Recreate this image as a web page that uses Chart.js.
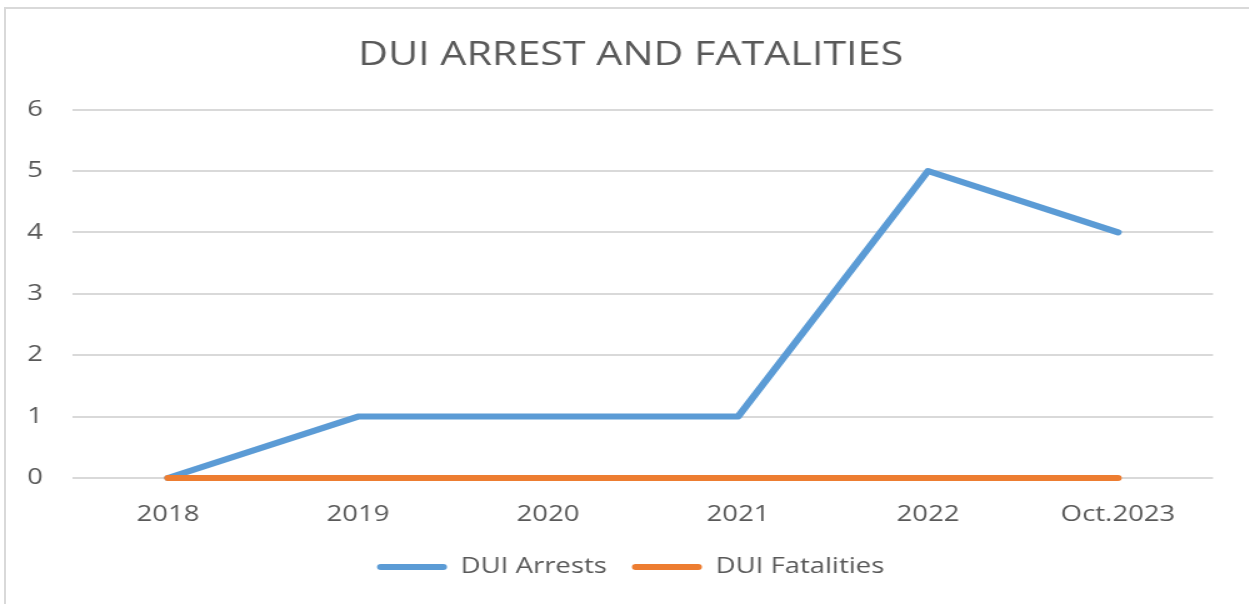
<!DOCTYPE html>
<html>
<head>
<meta charset="utf-8">
<script src="https://cdn.jsdelivr.net/npm/chart.js@4"></script>
<style>
    html, body { margin: 0; padding: 0; background: #fff; overflow: hidden; }
    #frame {
        position: absolute; left: 4px; top: 7px; width: 1250px; height: 610px;
        border: 2px solid #d9d9d9; box-sizing: border-box;
    }
    /* the original picture is stretched sideways, so the chart is drawn narrow and widened */
    #chartWrap {
        position: absolute; left: 0; top: 0; width: 999px; height: 604px;
        transform: scaleX(1.25); transform-origin: 0 0;
    }
</style>
</head>
<body>
<div id="frame"></div>
<div id="chartWrap"><canvas id="duiChart" width="999" height="604"></canvas></div>
<script>
// Chart data
const years = ['2018', '2019', '2020', '2021', '2022', 'Oct.2023'];
const duiArrests = [0, 1, 1, 1, 5, 4];
const duiFatalities = [0, 0, 0, 0, 0, 0];
const yTicks = [0, 1, 2, 3, 4, 5, 6];

const textColor = '#595959';
const gridColor = '#d9d9d9';
const fontFamily = '"Open Sans", "DejaVu Sans", sans-serif';

document.addEventListener('DOMContentLoaded', () => {
    const ctx = document.getElementById('duiChart').getContext('2d');
    new Chart(ctx, {
        type: 'line',
        data: {
            labels: years,
            datasets: [{
                label: 'DUI Arrests',
                data: duiArrests,
                borderColor: '#5B9BD5',
                backgroundColor: '#5B9BD5',
                borderWidth: 6,
                borderCapStyle: 'round',
                borderJoinStyle: 'round',
                pointRadius: 0,
                tension: 0,
                clip: 6,
                order: 1
            }, {
                label: 'DUI Fatalities',
                data: duiFatalities,
                borderColor: '#ED7D31',
                backgroundColor: '#ED7D31',
                borderWidth: 6,
                borderCapStyle: 'round',
                pointRadius: 0,
                tension: 0,
                clip: 6,
                order: 0
            }]
        },
        options: {
            responsive: false,
            animation: false,
            devicePixelRatio: 1,
            layout: { padding: { left: 10, right: 0, top: 0, bottom: 16 } },
            scales: {
                x: {
                    offset: true,
                    afterFit: axis => { axis.height = 58; },
                    grid: { display: false, drawTicks: false },
                    border: { display: false },
                    ticks: {
                        color: textColor,
                        padding: 24,
                        maxRotation: 0,
                        font: { family: fontFamily, size: 22 }
                    }
                },
                y: {
                    min: 0,
                    max: 6,
                    afterBuildTicks: axis => { axis.ticks = yTicks.map(v => ({ value: v })); },
                    afterFit: axis => { axis.width = 48.4; },
                    grid: { color: gridColor, lineWidth: 2, drawTicks: false },
                    border: { display: false },
                    ticks: {
                        color: textColor,
                        padding: 24,
                        font: { family: fontFamily, size: 22 }
                    }
                },
                // empty spacer on the right so title and legend sit where they do in the original
                spacer: {
                    type: 'linear',
                    position: 'right',
                    display: true,
                    afterFit: axis => { axis.width = 28.6; },
                    grid: { display: false },
                    border: { display: false },
                    ticks: { display: false }
                }
            },
            plugins: {
                title: {
                    display: true,
                    text: 'DUI ARREST AND FATALITIES',
                    color: textColor,
                    font: { family: fontFamily, size: 33, weight: 'normal' },
                    padding: { top: 36, bottom: 34 }
                },
                legend: {
                    position: 'bottom',
                    labels: {
                        color: textColor,
                        font: { family: fontFamily, size: 22 },
                        boxWidth: 56,
                        boxHeight: 6,
                        useBorderRadius: true,
                        borderRadius: 3,
                        padding: 20,
                        sort: (a, b) => a.datasetIndex - b.datasetIndex,
                        generateLabels: chart => Chart.defaults.plugins.legend.labels.generateLabels(chart)
                            .map(item => ({ ...item, lineWidth: 0, fillStyle: item.strokeStyle }))
                    }
                },
                tooltip: { enabled: false }
            }
        }
    });
});
</script>
</body>
</html>
